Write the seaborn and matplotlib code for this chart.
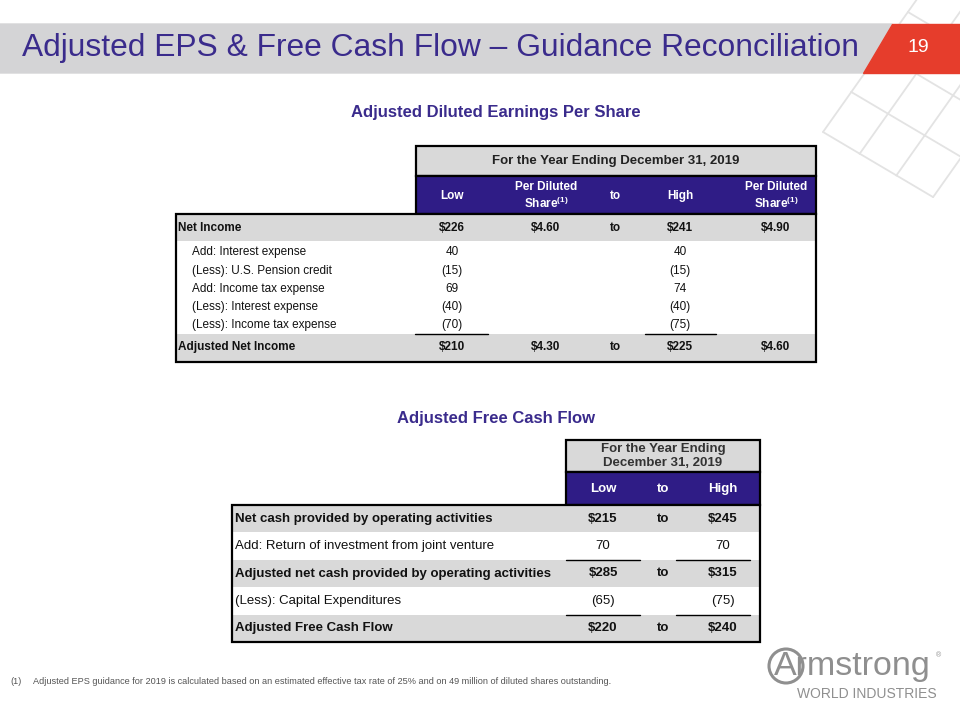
import matplotlib
matplotlib.use("Agg")
import matplotlib.pyplot as plt
from matplotlib.patches import Rectangle, Polygon, Circle
import seaborn as sns

# --- text / values ---
title = "Adjusted EPS & Free Cash Flow \u2013 Guidance Reconciliation"
page_number = "19"

eps_title = "Adjusted Diluted Earnings Per Share"
eps_period = "For the Year Ending December 31, 2019"
eps_columns = ["Low", "Per Diluted\nShare$^{(1)}$", "to", "High", "Per Diluted\nShare$^{(1)}$"]
eps_rows = ["Net Income", "Add: Interest expense", "(Less): U.S. Pension credit",
            "Add: Income tax expense", "(Less): Interest expense",
            "(Less): Income tax expense", "Adjusted Net Income"]
eps_low = ["$226", "40", "(15)", "69", "(40)", "(70)", "$210"]
eps_low_share = ["$4.60", "", "", "", "", "", "$4.30"]
eps_to = ["to", "", "", "", "", "", "to"]
eps_high = ["$241", "40", "(15)", "74", "(40)", "(75)", "$225"]
eps_high_share = ["$4.90", "", "", "", "", "", "$4.60"]
eps_bold = [True, False, False, False, False, False, True]

fcf_title = "Adjusted Free Cash Flow"
fcf_period = "For the Year Ending\nDecember 31, 2019"
fcf_columns = ["Low", "to", "High"]
fcf_rows = ["Net cash provided by operating activities",
            "Add: Return of investment from joint venture",
            "Adjusted net cash provided by operating activities",
            "(Less): Capital Expenditures",
            "Adjusted Free Cash Flow"]
fcf_low = ["$215", "70", "$285", "(65)", "$220"]
fcf_to = ["to", "", "to", "", "to"]
fcf_high = ["$245", "70", "$315", "(75)", "$240"]
fcf_bold = [True, False, True, False, True]

footnote = ("Adjusted EPS guidance for 2019 is calculated based on an estimated effective "
            "tax rate of 25% and on 49 million of diluted shares outstanding.")

PURPLE = "#2f1c86"
TITLE_C = "#3a2b8c"
GRAY_ROW = "#d9d9d9"
RED = "#e63d2c"
LOGO = "#8f8f8f"

sns.set_theme(style="white")
plt.rcParams["font.family"] = ["Liberation Sans", "DejaVu Sans"]
plt.rcParams["mathtext.fontset"] = "custom"
plt.rcParams["mathtext.rm"] = "Liberation Sans"
plt.rcParams["mathtext.bf"] = "Liberation Sans:bold"
plt.rcParams["mathtext.default"] = "regular"

fig = plt.figure(figsize=(9.6, 7.2), dpi=100)
ax = fig.add_axes([0, 0, 1, 1])
ax.set_xlim(0, 960)
ax.set_ylim(720, 0)
ax.set_axis_off()

# decorative lattice top right
ox, oy = 823, 132
u = (28.3, -40.0)
v = (36.7, 21.7)
def P(i, j):
    return ox + i * u[0] + j * v[0], oy + i * u[1] + j * v[1]
for i in range(0, 5):
    for j in range(0, 4):
        x0, y0 = P(i, j)
        for di, dj in [(1, 0), (0, 1)]:
            if i + di > 4 or j + dj > 3:
                continue
            x1, y1 = P(i + di, j + dj)
            ax.plot([x0, x1], [y0, y1], color="#e3e3e3", lw=1.3, zorder=0,
                    solid_capstyle="round")

# title bar
ax.add_patch(Polygon([(0, 24), (892, 24), (863, 73), (0, 73)], closed=True,
                     color="#d4d4d6", zorder=2))
ax.add_patch(Polygon([(892, 24), (960, 24), (960, 73), (863, 73)], closed=True,
                     color=RED, zorder=2))
ax.text(22, 48, title, fontsize=22.9, color=TITLE_C, va="center", ha="left", zorder=3)
ax.text(918, 47, page_number, fontsize=14, color="white", va="center", ha="center", zorder=3)

# ---------------- EPS table ----------------
ax.text(496, 112, eps_title, fontsize=12, fontweight="bold", color=TITLE_C,
        ha="center", va="center")

eps_x = [452, 546, 615, 680, 776]
ax.add_patch(Rectangle((416, 146), 400, 30, facecolor=GRAY_ROW, edgecolor="black", lw=1.6))
ax.text(616, 161, eps_period, fontsize=9.5, fontweight="bold", color="#222222",
        ha="center", va="center")
ax.add_patch(Rectangle((416, 176), 400, 38, facecolor=PURPLE, edgecolor="black", lw=1.6))
for x, c in zip(eps_x, eps_columns):
    ax.text(x, 196, c, fontsize=8.5, fontweight="bold", color="white",
            ha="center", va="center", linespacing=1.25)

eps_y = [228, 252, 271, 289, 307, 325, 347]
ax.add_patch(Rectangle((176, 214), 640, 27, facecolor=GRAY_ROW, edgecolor="none"))
ax.add_patch(Rectangle((176, 334), 640, 27, facecolor=GRAY_ROW, edgecolor="none"))
ax.add_patch(Rectangle((176, 214), 640, 148, facecolor="none", edgecolor="black", lw=1.6))
for k, label in enumerate(eps_rows):
    w = "bold" if eps_bold[k] else "normal"
    lx = 178 if eps_bold[k] else 192
    ax.text(lx, eps_y[k], label, fontsize=8.5, fontweight=w, color="#111111",
            ha="left", va="center")
    for x, vals in zip(eps_x, [eps_low, eps_low_share, eps_to, eps_high, eps_high_share]):
        if vals[k]:
            ax.text(x, eps_y[k], vals[k], fontsize=8.5, fontweight=w, color="#111111",
                    ha="center", va="center", parse_math=False)
ax.plot([415, 488], [333.5, 333.5], color="black", lw=1)
ax.plot([645, 716], [333.5, 333.5], color="black", lw=1)

# ---------------- FCF table ----------------
ax.text(496, 418, fcf_title, fontsize=12, fontweight="bold", color=TITLE_C,
        ha="center", va="center")

fcf_x = [603, 663, 723]
ax.add_patch(Rectangle((566, 440), 194, 32, facecolor=GRAY_ROW, edgecolor="black", lw=1.6))
ax.text(663, 456, fcf_period, fontsize=9.5, fontweight="bold", color="#333333",
        ha="center", va="center", linespacing=1.2)
ax.add_patch(Rectangle((566, 472), 194, 33, facecolor=PURPLE, edgecolor="black", lw=1.6))
for x, c in zip(fcf_x, fcf_columns):
    ax.text(x, 489, c, fontsize=9.5, fontweight="bold", color="white",
            ha="center", va="center")

fcf_top = 505
row_h = 27.4
for k, label in enumerate(fcf_rows):
    y0 = fcf_top + k * row_h
    yc = y0 + row_h / 2
    if fcf_bold[k]:
        ax.add_patch(Rectangle((232, y0), 528, row_h, facecolor=GRAY_ROW, edgecolor="none"))
    w = "bold" if fcf_bold[k] else "normal"
    ax.text(235, yc, label, fontsize=9.5, fontweight=w, color="#111111",
            ha="left", va="center")
    for x, vals in zip(fcf_x, [fcf_low, fcf_to, fcf_high]):
        if vals[k]:
            ax.text(x, yc, vals[k], fontsize=9.5, fontweight=w, color="#111111",
                    ha="center", va="center", parse_math=False)
    if not fcf_bold[k]:
        ax.plot([566, 640], [y0 + row_h, y0 + row_h], color="black", lw=1)
        ax.plot([676, 750], [y0 + row_h, y0 + row_h], color="black", lw=1)
ax.add_patch(Rectangle((232, fcf_top), 528, 5 * row_h, facecolor="none",
                       edgecolor="black", lw=1.6))

# footnote
ax.text(10, 681, "(1)", fontsize=6.6, color="#555555", ha="left", va="center")
ax.text(33, 681, footnote, fontsize=6.6, color="#555555", ha="left", va="center")

# logo
ax.add_patch(Circle((786, 666), 17, facecolor="none", edgecolor=LOGO, lw=2.2))
ax.text(774, 667, "Armstrong", fontsize=24.5, color=LOGO, ha="left", va="center")
ax.text(936, 656, "\u00ae", fontsize=5, color=LOGO, ha="left", va="center")
ax.text(937, 694, "WORLD INDUSTRIES", fontsize=10, color=LOGO,
        ha="right", va="center")

fig.savefig("out.png", dpi=100)
